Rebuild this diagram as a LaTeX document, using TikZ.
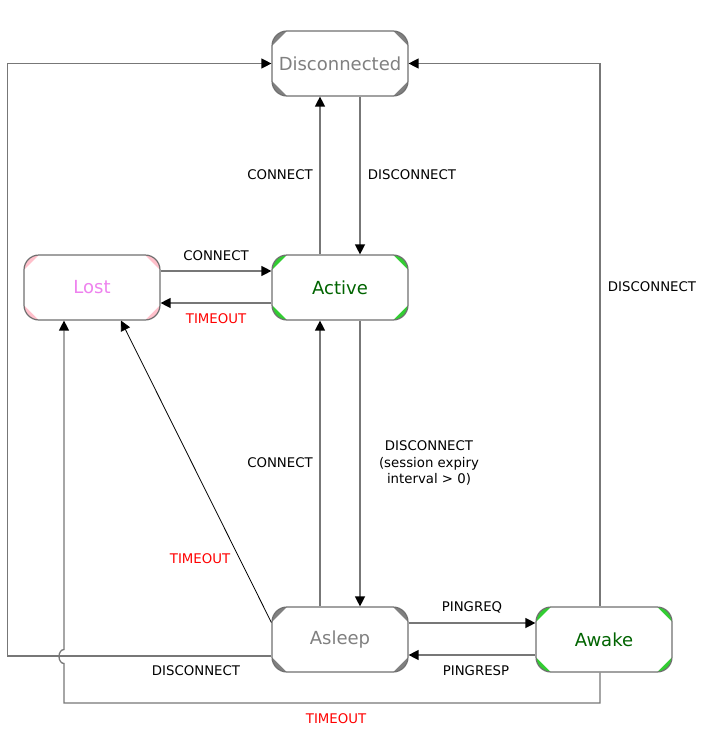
\documentclass[tikz,border=0pt]{standalone}
\usepackage{fontspec}
\setmainfont{DejaVu Sans}
\usetikzlibrary{arrows.meta,calc}
\definecolor{linegray}{HTML}{777777}
\definecolor{bordergray}{HTML}{707070}
\definecolor{txtgray}{HTML}{808080}
\definecolor{cgray}{HTML}{808080}
\definecolor{cpink}{HTML}{FFC0CB}
\definecolor{cgreen}{HTML}{32CD32}
\definecolor{tgreen}{HTML}{006400}
\definecolor{tviolet}{HTML}{EE82EE}
\definecolor{tred}{HTML}{FF0000}
\tikzset{
  statebox/.style n args={2}{draw=bordergray, line width=1.2pt, rounded corners=15pt,
    minimum width=136pt, minimum height=65pt, inner sep=0pt, text=#2,
    font=\fontsize{18}{20}\selectfont,
    path picture={
      \fill[#1, sharp corners] (path picture bounding box.south west) rectangle (path picture bounding box.north east);
      \fill[white, sharp corners]
        ($(path picture bounding box.south west)+(15pt,0pt)$) --
        ($(path picture bounding box.south east)+(-15pt,0pt)$) --
        ($(path picture bounding box.south east)+(0pt,15pt)$) --
        ($(path picture bounding box.north east)+(0pt,-15pt)$) --
        ($(path picture bounding box.north east)+(-15pt,0pt)$) --
        ($(path picture bounding box.north west)+(15pt,0pt)$) --
        ($(path picture bounding box.north west)+(0pt,-15pt)$) --
        ($(path picture bounding box.south west)+(0pt,15pt)$) -- cycle;
    }},
  conn/.style={draw=linegray, line width=1.3pt, -{Triangle[length=10pt,width=10pt,color=black]}},
  diag/.style={draw=black, line width=0.8pt, -{Triangle[length=10pt,width=10pt,color=black]}},
  lbl/.style={font=\fontsize{13.3}{16.5}\selectfont, text=black, inner sep=0pt},
  rlbl/.style={lbl, text=tred},
}
\begin{document}
\begin{tikzpicture}[x=1pt,y=-1pt]
\useasboundingbox (0,0) rectangle (704,752);

\node[statebox={cgray}{txtgray}] (disc) at (340,63.5) {Disconnected};
\node[statebox={cpink}{tviolet}] (lost) at (92,287.5) {Lost};
\node[statebox={cgreen}{tgreen}] (active) at (340,287.5) {Active};
\node[statebox={cgray}{txtgray}] (asleep) at (340,639.5) {Asleep};
\node[statebox={cgreen}{tgreen}] (awake) at (604,639.5) {Awake};

% Active <-> Disconnected
\draw[conn] ([xshift=-20pt]active.north) -- ([xshift=-20pt]disc.south);
\draw[conn] ([xshift=20pt]disc.south) -- ([xshift=20pt]active.north);
% Lost <-> Active
\draw[conn] ([yshift=16.5pt]lost.east) -- ([yshift=16.5pt]active.west);
\draw[conn] ([yshift=-15.5pt]active.west) -- ([yshift=-15.5pt]lost.east);
% Asleep <-> Active
\draw[conn] ([xshift=-20pt]asleep.north) -- ([xshift=-20pt]active.south);
\draw[conn] ([xshift=20pt]active.south) -- ([xshift=20pt]asleep.north);
% Asleep <-> Awake
\draw[conn] ([yshift=16.5pt]asleep.east) -- ([yshift=16.5pt]awake.west);
\draw[conn] ([yshift=-15.5pt]awake.west) -- ([yshift=-15.5pt]asleep.east);
% Asleep -> Lost (diagonal)
\draw[diag] ([yshift=17pt]asleep.west) -- ([xshift=29pt]lost.south);
% Asleep -> Disconnected
\draw[conn] ([yshift=-16.5pt]asleep.west) -| ([xshift=-264pt]disc.west) -- (disc.west);
% Awake -> Disconnected
\draw[conn] ([xshift=-4pt]awake.north) |- (disc.east);
% Awake -> Lost with jump
\draw[conn] ([xshift=-4pt]awake.south) |- (64,703) -- (64,663.5)
  arc[start angle=-90, end angle=-270, x radius=5pt, y radius=7pt]
  -- ([xshift=-28pt]lost.south);

% labels
\node[lbl] (l1) at (280,175) {CONNECT};
\node[lbl] (l2) at (412,175) {DISCONNECT};
\node[lbl] (l3) at (216,256) {CONNECT};
\node[rlbl] (l4) at (216,319) {TIMEOUT};
\node[lbl] (l5) at (280,463) {CONNECT};
\node[lbl, align=center] (l6) at (429,463) {DISCONNECT\\(session expiry\\interval > 0)};
\node[rlbl] (l7) at (200,559) {TIMEOUT};
\node[lbl] (l8) at (472,607) {PINGREQ};
\node[lbl] (l9) at (476,671) {PINGRESP};
\node[lbl] (l10) at (196,671) {DISCONNECT};
\node[lbl] (l11) at (652,287) {DISCONNECT};
\node[rlbl] (l12) at (336,719) {TIMEOUT};
\end{tikzpicture}
\end{document}
